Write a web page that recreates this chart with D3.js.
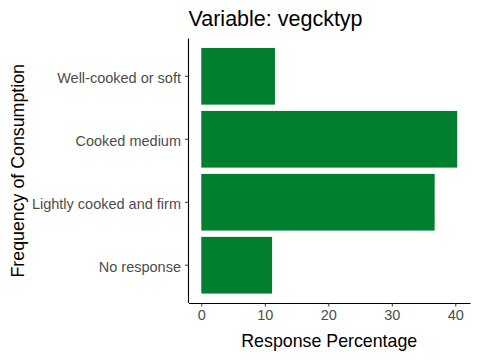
<!DOCTYPE html>
<html>
<head>
<meta charset="utf-8">
<script src="https://cdn.jsdelivr.net/npm/d3@7"></script>
<style>
  body { margin: 0; background: #fff; }
  text { font-family: "Liberation Sans", Arial, sans-serif; }
</style>
</head>
<body>
<div id="chart"></div>
<script>
// Data
const categories = ["Well-cooked or soft", "Cooked medium", "Lightly cooked and firm", "No response"];
const percentages = [11.6, 40.3, 36.75, 11.15];
const xTicks = [0, 10, 20, 30, 40];

const width = 480, height = 360;
const margin = { top: 38.5, right: 10, bottom: 57, left: 188.5 };
const innerW = width - margin.left - margin.right;
const innerH = height - margin.top - margin.bottom;

const data = categories.map((c, i) => ({ cat: c, value: percentages[i] }));

const svg = d3.select("#chart").append("svg")
    .attr("width", width)
    .attr("height", height);

const g = svg.append("g")
    .attr("transform", `translate(${margin.left},${margin.top})`);

// ggplot-like expansion: 5% on continuous, 0.6 units on discrete
const maxV = d3.max(percentages);
const x = d3.scaleLinear()
    .domain([-0.05 * maxV, maxV * 1.05])
    .range([0, innerW]);

const step = innerH / (categories.length - 1 + 1.2);
const y = d3.scaleBand()
    .domain(categories)
    .range([0.1 * step, innerH - 0.1 * step])
    .paddingInner(0.1)
    .paddingOuter(0.05);

// bars
g.selectAll(".bar")
    .data(data)
    .enter().append("rect")
    .attr("class", "bar")
    .attr("x", x(0))
    .attr("y", d => y(d.cat))
    .attr("width", d => x(d.value) - x(0))
    .attr("height", y.bandwidth())
    .style("fill", "#007F2F");

// x axis
const xAxis = g.append("g")
    .attr("transform", `translate(0,${innerH})`)
    .call(d3.axisBottom(x).tickValues(xTicks).tickSize(3.5).tickPadding(3).tickSizeOuter(0));
xAxis.select(".domain").attr("stroke", "#000").attr("stroke-width", 1.1);
xAxis.selectAll(".tick line").attr("stroke", "#333");
xAxis.selectAll(".tick text")
    .style("font-size", "14.5px")
    .style("fill", "#4D4D4D");

// y axis
const yAxis = g.append("g")
    .call(d3.axisLeft(y).tickSize(3.5).tickPadding(4).tickSizeOuter(0));
yAxis.select(".domain").attr("stroke", "#000").attr("stroke-width", 1.1)
    .attr("d", `M0,0V${innerH}`);
yAxis.selectAll(".tick line").attr("stroke", "#333");
yAxis.selectAll(".tick text")
    .attr("dy", "0.45em")
    .style("font-size", "14.5px")
    .style("fill", "#4D4D4D");

// title
svg.append("text")
    .attr("x", margin.left)
    .attr("y", 26)
    .style("font-size", "21.5px")
    .style("fill", "#000")
    .text("Variable: vegcktyp");

// axis titles
svg.append("text")
    .attr("x", margin.left + innerW / 2)
    .attr("y", 347)
    .attr("text-anchor", "middle")
    .style("font-size", "17.8px")
    .style("fill", "#000")
    .text("Response Percentage");

svg.append("text")
    .attr("transform", `translate(24,${margin.top + innerH / 2}) rotate(-90)`)
    .attr("text-anchor", "middle")
    .style("font-size", "17.8px")
    .style("fill", "#000")
    .text("Frequency of Consumption");
</script>
</body>
</html>
